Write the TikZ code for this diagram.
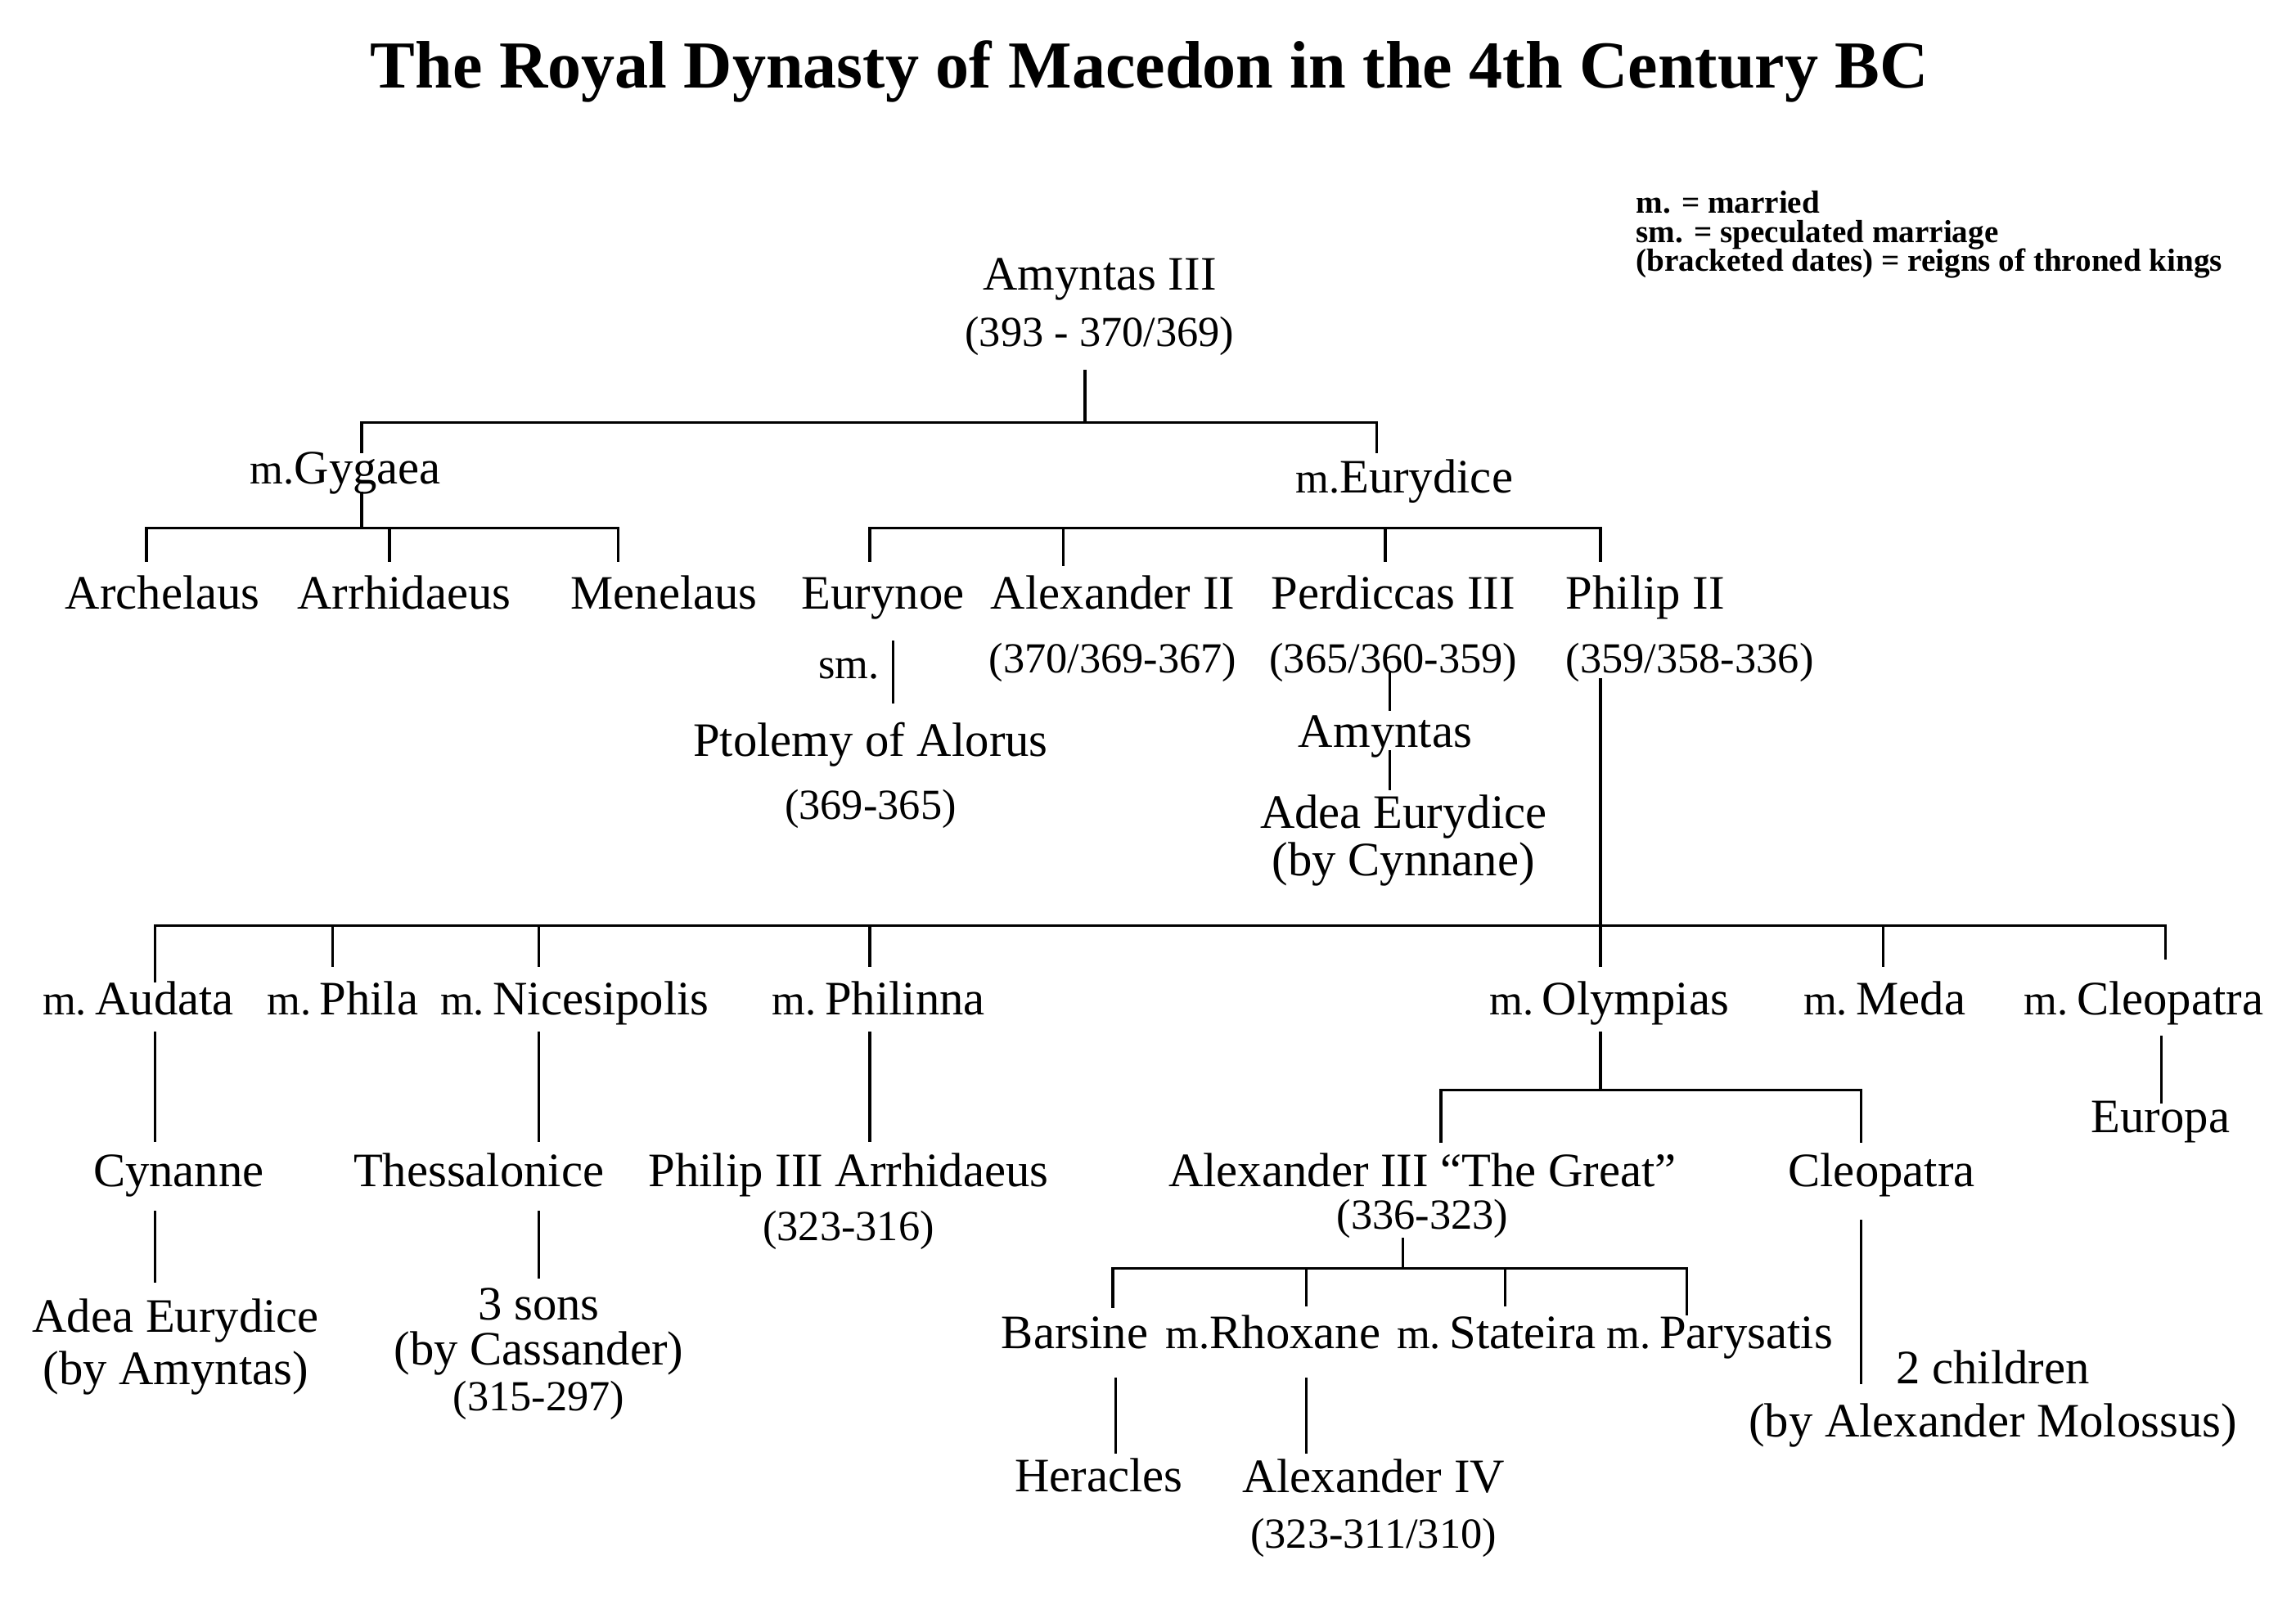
\documentclass[tikz,border=0pt]{standalone}
\usepackage{fontspec}
\setmainfont{Liberation Serif}
\newcommand\namesize[1]{\fontsize{16.8}{#1}\selectfont}
\newcommand\dates[1]{{\fontsize{15}{15}\selectfont #1}}
\newcommand\mar{{\fontsize{15}{15}\selectfont m.}}
\newcommand\marr{\mar\kern3pt}
\setlength\lineskiplimit{-100pt}

\begin{document}
\begin{tikzpicture}[x=0.018cm,y=-0.01809cm,line cap=rect,
  link/.style={line width=0.95pt},
  person/.style={align=center,anchor=base,inner sep=0pt,font=\namesize{22pt}},
  title/.style={anchor=base,inner sep=0pt,font=\bfseries\fontsize{23.5}{28}\selectfont},
  legend/.style={align=left,anchor=base west,inner sep=0pt,font=\bfseries\fontsize{11.2}{10.25}\selectfont}]
  \path[fill=white,use as bounding box] (0,0) rectangle (1568,1103);

  % multi-line nodes sit on the baseline of their last line
  \node[title] (ttl) at (785,60) {The Royal Dynasty of Macedon in the 4th Century BC};
  \node[legend] (key) at (1117,184.5) {m. = married\\sm. = speculated marriage\\(bracketed dates) = reigns of throned kings};

  % Amyntas III and his wives
  \node[person,font=\namesize{19.7pt}] (a3) at (751,235.5) {Amyntas III\\\dates{(393 - 370/369)}};
  \node[person] (gyg) at (236,329) {\mar Gygaea};
  \node[person] (eur) at (959,335) {\mar Eurydice};

  % children of Amyntas III
  \node[person] (arc) at (111,414) {Archelaus};
  \node[person] (arr) at (276,414) {Arrhidaeus};
  \node[person] (men) at (453.5,414) {Menelaus};
  \node[person] (eun) at (603,414) {Eurynoe};
  \node[person,font=\namesize{22.3pt}] (a2) at (760,457.5) {Alexander II\\\dates{(370/369-367)}};
  \node[person,font=\namesize{22.3pt}] (p3) at (951.5,457.5) {Perdiccas III\\\dates{(365/360-359)}};
  \node[person,font=\namesize{22.3pt},align=left,anchor=base west] (p2) at (1069,457.5) {Philip II\\\dates{(359/358-336)}};

  \node[person,font=\fontsize{15}{15}\selectfont,anchor=base east] (sm) at (601,461) {sm.};
  \node[person] (ptl) at (594.5,557) {Ptolemy of Alorus\\\dates{(369-365)}};
  \node[person] (amy) at (946,508) {Amyntas};
  \node[person,font=\namesize{16.5pt}] (ad1) at (958.5,595) {Adea Eurydice\\(by Cynnane)};

  % wives of Philip II
  \node[person] (aud) at (94.5,689.5) {\marr Audata};
  \node[person] (phi) at (234,689.5) {\marr Phila};
  \node[person] (nic) at (392.5,689.5) {\marr Nicesipolis};
  \node[person] (pln) at (600,689.5) {\marr Philinna};
  \node[person] (oly) at (1099,689.5) {\marr Olympias};
  \node[person] (med) at (1287,689.5) {\marr Meda};
  \node[person] (cle) at (1464,689.5) {\marr Cleopatra};
  \node[person] (eup) at (1475.5,770) {Europa};

  % children of Philip II
  \node[person] (cyn) at (122,806.5) {Cynanne};
  \node[person] (ths) at (327,806.5) {Thessalonice};
  \node[person,font=\namesize{18.7pt}] (p3a) at (579.5,843) {Philip III Arrhidaeus\\\dates{(323-316)}};
  \node[person,font=\namesize{14.9pt}] (a3g) at (971.5,835.5) {Alexander III ``The Great''\\\dates{(336-323)}};
  \node[person] (cl2) at (1285,806.5) {Cleopatra};

  \node[person,font=\namesize{18.2pt}] (ad2) at (120,941) {Adea Eurydice\\(by Amyntas)};
  \node[person,font=\namesize{16pt}] (sns) at (368,959) {3 sons\\(by Cassander)\\\dates{(315-297)}};
  \node[person,font=\namesize{18.7pt}] (chl) at (1361,976.5) {2 children\\(by Alexander Molossus)};

  % wives and sons of Alexander III
  \node[person] (bsn) at (734,916.5) {Barsine};
  \node[person] (rho) at (869.5,916.5) {\mar Rhoxane};
  \node[person] (sta) at (1022,916.5) {\marr Stateira};
  \node[person] (pry) at (1174.5,916.5) {\marr Parysatis};
  \node[person] (her) at (750.5,1014) {Heracles};
  \node[person,font=\namesize{19.5pt}] (a4) at (938,1052) {Alexander IV\\\dates{(323-311/310)}};

  % line ends
  \coordinate (a3s) at (741,252);  \coordinate (j1) at (741,287);
  \coordinate (gyt) at (247,307);  \coordinate (eyt) at (940,307);
  \coordinate (gys) at (247,335);  \coordinate (j2) at (247,359);
  \coordinate (art) at (100,381);  \coordinate (aht) at (266,381);  \coordinate (mnt) at (422,381);
  \coordinate (ent) at (594,381);  \coordinate (a2t) at (726,384);
  \coordinate (p3t) at (946,381);  \coordinate (p2t) at (1093,381);
  \coordinate (sm1) at (610,436);  \coordinate (sm2) at (610,477);
  \coordinate (p3s) at (949,457);  \coordinate (amt) at (949,482);
  \coordinate (ams) at (949,511);  \coordinate (adt) at (949,536);
  \coordinate (p2s) at (1093,462); \coordinate (j4) at (1093,629);
  \coordinate (aut) at (106,667);  \coordinate (pht) at (227,656);  \coordinate (nit) at (368,656);
  \coordinate (pit) at (594,656);  \coordinate (oyt) at (1093,656); \coordinate (mdt) at (1286,656);
  \coordinate (clt) at (1479,651);
  \coordinate (aus) at (106,702);  \coordinate (cyt) at (106,775);
  \coordinate (nis) at (368,702);  \coordinate (tht) at (368,775);
  \coordinate (pis) at (594,702);  \coordinate (pat) at (594,775);
  \coordinate (ols) at (1093,702); \coordinate (j5) at (1093,741);
  \coordinate (a3t) at (984,776);  \coordinate (c2t) at (1271,776);
  \coordinate (cls) at (1476,705); \coordinate (ept) at (1476,749);
  \coordinate (cys) at (106,824);  \coordinate (adt2) at (106,871);
  \coordinate (ths1) at (368,824); \coordinate (snt) at (368,868);
  \coordinate (a3gs) at (958,842); \coordinate (j6) at (958,862);
  \coordinate (bat) at (760,888);  \coordinate (rht) at (892,887);
  \coordinate (stt) at (1028,887); \coordinate (pyt) at (1152,893);
  \coordinate (c2s) at (1271,830); \coordinate (cht) at (1271,940);
  \coordinate (bas) at (762,937);  \coordinate (het) at (762,987);
  \coordinate (rhs) at (892,937);  \coordinate (a4t) at (892,987);

  \path[link]
    (a3s) edge (j1)
    (gyt |- j1) edge (eyt |- j1)
    (gyt |- j1) edge (gyt)
    (eyt |- j1) edge (eyt)

    (gys) edge (j2)
    (art |- j2) edge (mnt |- j2)
    (art |- j2) edge (art)
    (aht |- j2) edge (aht)
    (mnt |- j2) edge (mnt)
    (ent |- j2) edge (p2t |- j2)
    (ent |- j2) edge (ent)
    (a2t |- j2) edge (a2t)
    (p3t |- j2) edge (p3t)
    (p2t |- j2) edge (p2t)

    (sm1) edge (sm2)
    (p3s) edge (amt)
    (ams) edge (adt)

    (p2s) edge (j4)
    (aut |- j4) edge (clt |- j4)
    (aut |- j4) edge (aut)
    (pht |- j4) edge (pht)
    (nit |- j4) edge (nit)
    (pit |- j4) edge (pit)
    (oyt |- j4) edge (oyt)
    (mdt |- j4) edge (mdt)
    (clt |- j4) edge (clt)

    (aus) edge (cyt)
    (nis) edge (tht)
    (pis) edge (pat)
    (cls) edge (ept)

    (ols) edge (j5)
    (a3t |- j5) edge (c2t |- j5)
    (a3t |- j5) edge (a3t)
    (c2t |- j5) edge (c2t)

    (cys) edge (adt2)
    (ths1) edge (snt)
    (c2s) edge (cht)

    (a3gs) edge (j6)
    (bat |- j6) edge (pyt |- j6)
    (bat |- j6) edge (bat)
    (rht |- j6) edge (rht)
    (stt |- j6) edge (stt)
    (pyt |- j6) edge (pyt)

    (bas) edge (het)
    (rhs) edge (a4t)
  ;
\end{tikzpicture}
\end{document}
